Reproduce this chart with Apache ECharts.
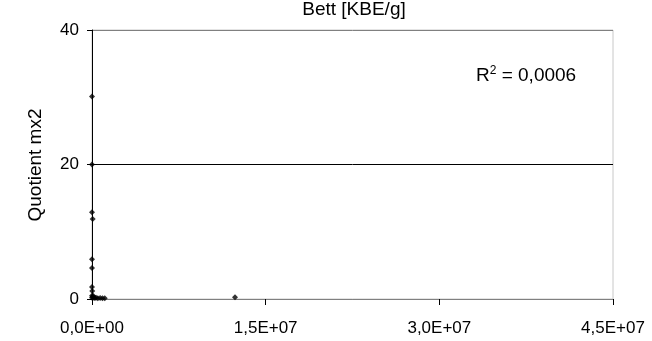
<!DOCTYPE html>
<html><head><meta charset="utf-8">
<script src="https://cdn.jsdelivr.net/npm/echarts@6/dist/echarts.min.js"></script>
<style>html,body{margin:0;padding:0;background:#fff}#c{width:652px;height:341px}</style>
</head><body><div id="c"></div>
<script>
const chartTitle = "Bett [KBE/g]";
const yAxisName = "Quotient mx2";
const xValues = [0, 0, 0, 60000, 0, 0, 0, 20000, 0, 50000, 150000, 250000, 350000, 500000, 700000, 900000, 1100000, 12350000, 0, 100000];
const yValues = [30.1, 20.0, 12.9, 11.9, 5.9, 4.6, 1.8, 1.2, 0.5, 0.3, 0.2, 0.15, 0.2, 0.1, 0.15, 0.1, 0.1, 0.25, 0.2, 0.5];
const xTicks = [0, 15000000, 30000000, 45000000];
const yTicks = [0, 20, 40];
const r2Base = "R";
const r2Sup = "2";
const r2Rest = " = 0,0006";

const data = xValues.map((x, i) => [x, yValues[i]]);
const fmtX = v => {
  if (v === 0) return "0,0E+00";
  const e = Math.floor(Math.log10(Math.abs(v)));
  const m = v / Math.pow(10, e);
  return m.toFixed(1).replace('.', ',') + "E+" + String(e).padStart(2, '0');
};
const chart = echarts.init(document.getElementById('c'), null, {renderer: 'canvas'});
const font = 'Liberation Sans, Arial, sans-serif';
chart.setOption({
  animation: false,
  grid: {left: 92, right: 39, top: 30, bottom: 42, show: true, borderColor: '#c8c8c8', borderWidth: 1},
  xAxis: {type: 'value', min: xTicks[0], max: xTicks[xTicks.length - 1], interval: 15000000,
    axisLine: {show: true, onZero: false, lineStyle: {color: '#808080', width: 1}},
    axisTick: {show: true, inside: false, length: 6, lineStyle: {color: '#000'}},
    axisLabel: {formatter: fmtX, fontFamily: font, fontSize: 17, color: '#000', margin: 21},
    splitLine: {show: false}},
  yAxis: {type: 'value', min: yTicks[0], max: yTicks[yTicks.length - 1], interval: 20,
    axisLine: {show: true, lineStyle: {color: '#000', width: 1}},
    axisTick: {show: true, length: 5, lineStyle: {color: '#000'}},
    axisLabel: {fontFamily: font, fontSize: 17, color: '#000', margin: 13},
    splitLine: {show: true, lineStyle: {color: ['#808080', '#000', '#808080'], width: 1}}},
  graphic: [
    {type: 'text', x: 354, y: 10, z: 10,
      style: {text: chartTitle, fontFamily: font, fontSize: 19, fill: '#000', align: 'center', verticalAlign: 'middle'}},
    {type: 'text', x: 36, y: 165, rotation: Math.PI / 2, z: 10,
      style: {text: yAxisName, fontFamily: font, fontSize: 19, fill: '#000', align: 'center', verticalAlign: 'middle'}},
    {type: 'text', x: 476, y: 76, z: 10,
      style: {text: '{a|' + r2Base + '}{s|' + r2Sup + '}{a|' + r2Rest + '}', verticalAlign: 'middle',
        rich: {a: {fontFamily: font, fontSize: 19, fill: '#000', color: '#000'},
               s: {fontFamily: font, fontSize: 12, fill: '#000', color: '#000', verticalAlign: 'top', padding: [0, 0, 10, 0]}}}}
  ],
  series: [{type: 'scatter', data: data, symbol: 'diamond', symbolSize: 6,
    itemStyle: {color: '#000'}}]
});
</script></body></html>
